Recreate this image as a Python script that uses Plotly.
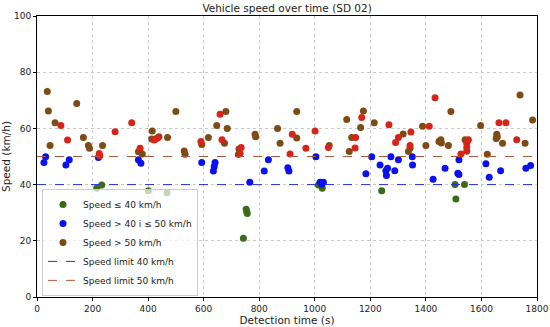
import plotly.graph_objects as go

# ---- data ----
low_t = [215, 233, 401, 468, 743, 753, 755, 757, 1013, 1027, 1241, 1505, 1508, 1539]
low_s = [38.7, 39.9, 37.8, 37.1, 20.9, 31.2, 30.4, 29.7, 39.9, 38.7, 37.8, 40.0, 34.9, 40.0]

mid_t = [25, 31, 104, 116, 221, 365, 374, 593, 635, 638, 641, 766, 818, 833, 903, 907,
         1004, 1019, 1025, 1031, 1184, 1205, 1235, 1256, 1258, 1262, 1274, 1288, 1301,
         1351, 1352, 1426, 1469, 1515, 1519, 1519, 1616, 1628, 1669, 1760, 1777]
mid_s = [47.9, 49.9, 47.0, 48.8, 49.6, 48.8, 47.6, 47.9, 44.8, 46.4, 47.9, 40.8, 44.8, 48.8,
         46.0, 44.8, 49.9, 40.8, 40.1, 40.8, 43.9, 49.9, 47.0, 44.9, 43.2, 45.8, 49.9, 44.9,
         48.8, 49.9, 47.0, 41.9, 45.8, 44.0, 43.6, 48.8, 47.4, 42.6, 44.9, 45.8, 46.8]

high_t = [37, 41, 65, 143, 47, 167, 185, 189, 236, 365, 379, 413, 415, 439, 470, 500,
          530, 533, 593, 617, 647, 680, 685, 675, 725, 727, 785, 787, 866, 875, 935, 935,
          1052, 1115, 1124, 1133, 1165, 1175, 1214, 1318, 1337, 1343, 1388, 1400, 1447,
          1454, 1456, 1481, 1490, 1541, 1597, 1621, 1655, 1657, 1653, 1676, 1739, 1757, 1784]
high_s = [73.1, 66.2, 62.0, 68.9, 53.9, 56.8, 53.9, 52.9, 53.9, 51.7, 50.9, 56.2, 59.1,
          57.0, 56.8, 66.0, 52.0, 50.8, 54.3, 56.8, 61.0, 66.0, 60.0, 54.7, 50.7, 52.7,
          57.9, 57.0, 60.0, 54.7, 66.0, 56.6, 53.9, 63.2, 51.8, 56.8, 60.3, 66.2, 62.0,
          58.0, 51.8, 52.9, 60.8, 53.9, 55.3, 56.0, 54.8, 53.9, 66.0, 56.0, 61.0, 50.8,
          57.9, 57.0, 56.4, 54.7, 71.9, 54.7, 63.0]

high_red_t = [86, 110, 224, 226, 281, 341, 371, 422, 427, 434, 590, 659, 666, 731, 735,
              911, 919, 968, 1001, 1049, 1145, 1147, 1169, 1267, 1291, 1301, 1343, 1346,
              1412, 1433, 1526, 1547, 1547, 1547, 1553, 1663, 1688, 1727]
high_red_s = [61.0, 55.9, 51.1, 50.3, 58.8, 62.0, 52.9, 55.9, 56.2, 56.6, 55.3, 65.0, 56.0,
              51.1, 53.2, 50.9, 57.9, 52.9, 59.1, 53.2, 53.0, 56.8, 63.9, 61.3, 55.0, 56.8,
              53.9, 58.7, 60.8, 70.9, 50.9, 54.7, 53.2, 51.9, 56.0, 62.0, 62.0, 56.0]

x_range = [0, 1800]
limit40 = [40, 40]
limit50 = [50, 50]
x_ticks = [0, 200, 400, 600, 800, 1000, 1200, 1400, 1600, 1800]
y_ticks = [0, 20, 40, 60, 80, 100]

GREEN = "#3c6b18"
BLUE = "#0a10f0"
BROWN = "#7d4c14"
RED = "#d82418"

fig = go.Figure()
fig.add_trace(go.Scatter(x=low_t, y=low_s, mode="markers", name="Speed ≤ 40 km/h",
                         marker=dict(color=GREEN, size=7)))
fig.add_trace(go.Scatter(x=mid_t, y=mid_s, mode="markers", name="Speed > 40 i ≤ 50 km/h",
                         marker=dict(color=BLUE, size=7)))
fig.add_trace(go.Scatter(x=high_t, y=high_s, mode="markers", name="Speed > 50 km/h",
                         marker=dict(color=BROWN, size=7)))
fig.add_trace(go.Scatter(x=high_red_t, y=high_red_s, mode="markers", showlegend=False,
                         marker=dict(color=RED, size=7)))
fig.add_trace(go.Scatter(x=x_range, y=limit40, mode="lines", name="Speed limit 40 km/h",
                         line=dict(color="#2030e0", width=1, dash="dash")))
fig.add_trace(go.Scatter(x=x_range, y=limit50, mode="lines", name="Speed limit 50 km/h",
                         line=dict(color="#b05a3a", width=1, dash="dash")))

axis_common = dict(showline=True, linecolor="black", linewidth=1, mirror=True,
                   ticks="outside", ticklen=3, tickcolor="black",
                   showgrid=True, gridcolor="#c8c8c8", griddash="dot", gridwidth=1,
                   zeroline=False, tickfont=dict(size=9, color="#222"), automargin=False)

fig.update_layout(
    width=550, height=327,
    margin=dict(l=37, r=13, t=16, b=30),
    paper_bgcolor="white", plot_bgcolor="white",
    font=dict(family="DejaVu Sans", color="#222"),
    title=dict(text="Vehicle speed over time (SD 02)", x=0.522, xanchor="center",
               y=0.987, yanchor="top", font=dict(size=10.5, color="#222")),
    xaxis=dict(range=x_range, tickvals=x_ticks,
               title=dict(text="Detection time (s)", font=dict(size=10.5), standoff=1),
               **axis_common),
    yaxis=dict(range=[0, 100], tickvals=y_ticks,
               title=dict(text="Speed (km/h)", font=dict(size=10.5), standoff=4),
               **axis_common),
    legend=dict(x=0.01, y=0.004, xanchor="left", yanchor="bottom",
                bgcolor="rgba(255,255,255,0.7)", bordercolor="#cccccc", borderwidth=1,
                font=dict(size=9), tracegroupgap=0),
    showlegend=True,
)

fig.write_html("out.html", config={"displayModeBar": False},
               post_script="document.body.style.margin='0px';")
